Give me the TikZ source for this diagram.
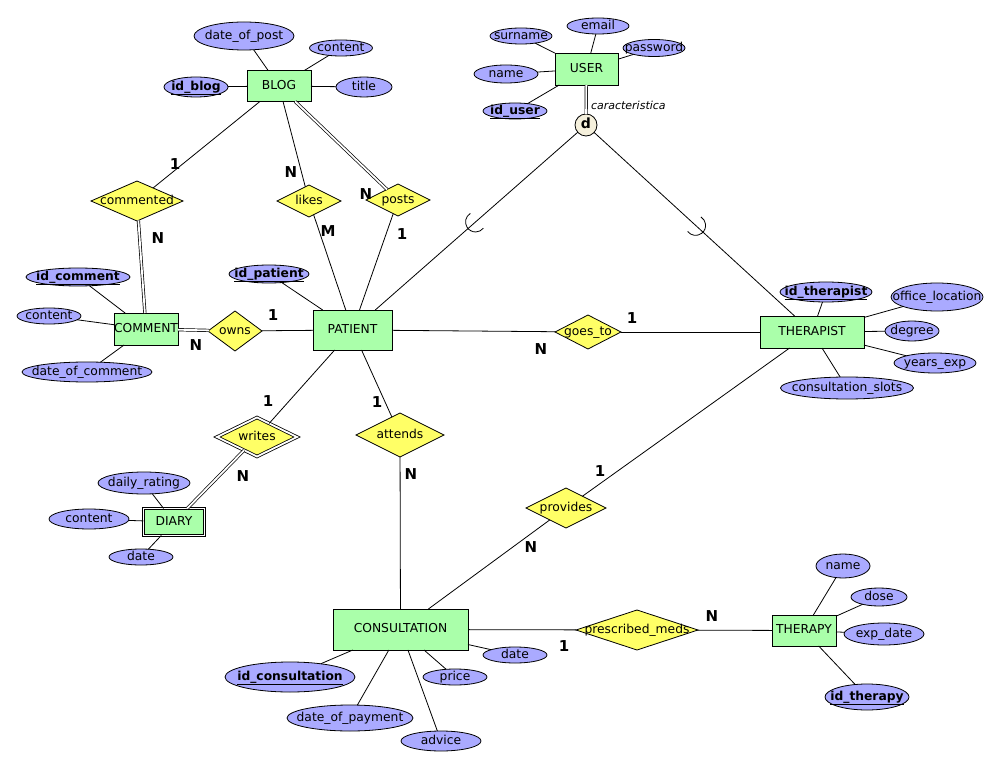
\documentclass[tikz,border=0pt]{standalone}
\usepackage{fontspec}
\setmainfont{DejaVu Sans}
\usetikzlibrary{shapes.geometric,calc}
\definecolor{entfill}{RGB}{170,255,170}
\definecolor{attfill}{RGB}{170,170,255}
\definecolor{relfill}{RGB}{255,255,102}
\definecolor{discfill}{RGB}{245,240,220}
\newcommand\zw[1]{\makebox[0pt]{\raisebox{-.5ex}[0pt][0pt]{#1}}}
\newcommand\keyattr[1]{\underline{\textbf{#1}}}
\begin{document}
\begin{tikzpicture}[x=1pt,y=-1pt,
  every node/.style={font=\fontsize{12.3}{14}\selectfont, inner sep=0pt, outer sep=0pt},
  entity/.style={draw, fill=entfill, rectangle, line width=0.8pt},
  attr/.style={draw, fill=attfill, ellipse, line width=0.8pt},
  rel/.style={draw, fill=relfill, diamond, line width=0.8pt},
  card/.style={font=\fontsize{15}{15}\selectfont\bfseries},
  conn/.style={line width=0.8pt},
  dconn/.style={double, double distance=1.8pt, line width=0.7pt}]
\useasboundingbox[fill=white] (0,0) rectangle (1001,767);

% ---------- entities ----------
\node[entity, minimum width=64, minimum height=31] (blog) at (279,86) {\zw{BLOG}};
\node[entity, minimum width=63, minimum height=32] (user) at (586.5,69) {\zw{USER}};
\node[entity, minimum width=64, minimum height=32] (comment) at (146,329) {\zw{COMMENT}};
\node[entity, minimum width=79, minimum height=40] (patient) at (352.5,330) {\zw{PATIENT}};
\node[entity, minimum width=104, minimum height=32] (therapist) at (812,332) {\zw{THERAPIST}};
\node[entity, double, double distance=1.5pt, minimum width=61, minimum height=27] (diary) at (174,522) {\zw{DIARY}};
\node[entity, minimum width=135, minimum height=41] (consultation) at (400.5,629.5) {\zw{CONSULTATION}};
\node[entity, minimum width=64, minimum height=31] (therapy) at (804,630.5) {\zw{THERAPY}};

% ---------- attributes ----------
\node[attr, minimum width=100, minimum height=28] (dop) at (244,36) {\zw{date\_of\_post}};
\node[attr, minimum width=63, minimum height=16] (bcontent) at (341,48) {\zw{content}};
\node[attr, minimum width=64, minimum height=20] (idblog) at (196,87) {\zw{\keyattr{id\_blog}}};
\node[attr, minimum width=56, minimum height=20] (title) at (364,87) {\zw{title}};

\node[attr, minimum width=62, minimum height=16] (surname) at (521,36) {\zw{surname}};
\node[attr, minimum width=62, minimum height=16] (email) at (598,26) {\zw{email}};
\node[attr, minimum width=62, minimum height=17] (password) at (654,48) {\zw{password}};
\node[attr, minimum width=64, minimum height=18] (uname) at (506,74) {\zw{name}};
\node[attr, minimum width=64, minimum height=16] (iduser) at (515,111) {\zw{\keyattr{id\_user}}};

\node[attr, minimum width=104, minimum height=18] (idcomment) at (78,277) {\zw{\keyattr{id\_comment}}};
\node[attr, minimum width=64, minimum height=16] (ccontent) at (49,316) {\zw{content}};
\node[attr, minimum width=130, minimum height=20] (doc) at (87,372) {\zw{date\_of\_comment}};

\node[attr, minimum width=80, minimum height=18] (idpatient) at (269,274) {\zw{\keyattr{id\_patient}}};

\node[attr, minimum width=92, minimum height=20] (idtherapist) at (826,292) {\zw{\keyattr{id\_therapist}}};
\node[attr, minimum width=92, minimum height=28] (office) at (937,297) {\zw{office\_location}};
\node[attr, minimum width=54, minimum height=20] (degree) at (912,331) {\zw{degree}};
\node[attr, minimum width=82, minimum height=20] (yexp) at (935,363) {\zw{years\_exp}};
\node[attr, minimum width=133, minimum height=22] (slots) at (847,388) {\zw{consultation\_slots}};

\node[attr, minimum width=92, minimum height=22] (rating) at (144,483) {\zw{daily\_rating}};
\node[attr, minimum width=80, minimum height=20] (dcontent) at (89,519) {\zw{content}};
\node[attr, minimum width=64, minimum height=16] (ddate) at (141,557) {\zw{date}};

\node[attr, minimum width=130, minimum height=30] (idcons) at (290,677) {\zw{\keyattr{id\_consultation}}};
\node[attr, minimum width=126, minimum height=26] (dopay) at (350,718) {\zw{date\_of\_payment}};
\node[attr, minimum width=80, minimum height=20] (advice) at (441,741) {\zw{advice}};
\node[attr, minimum width=64, minimum height=16] (price) at (455,677) {\zw{price}};
\node[attr, minimum width=64, minimum height=16] (cdate) at (515,655) {\zw{date}};

\node[attr, minimum width=54, minimum height=24] (tname) at (843,566) {\zw{name}};
\node[attr, minimum width=56, minimum height=18] (dose) at (879,597) {\zw{dose}};
\node[attr, minimum width=80, minimum height=22] (expdate) at (884,634) {\zw{exp\_date}};
\node[attr, minimum width=84, minimum height=26] (idtherapy) at (867,697) {\zw{\keyattr{id\_therapy}}};

% ---------- relationships ----------
\node[rel, minimum width=92, minimum height=40] (commented) at (137,201) {\zw{commented}};
\node[rel, minimum width=64, minimum height=32] (likes) at (309,201) {\zw{likes}};
\node[rel, minimum width=64, minimum height=32] (posts) at (398,200) {\zw{posts}};
\node[rel, minimum width=54, minimum height=40] (owns) at (235,331) {\zw{owns}};
\node[rel, minimum width=66, minimum height=34] (goesto) at (588,332) {\zw{goes\_to}};
\node[rel, double, double distance=1.8pt, minimum width=80, minimum height=39] (writes) at (257,437) {\zw{writes}};
\node[rel, minimum width=88, minimum height=44] (attends) at (400,435) {\zw{attends}};
\node[rel, minimum width=80, minimum height=40] (provides) at (566,508) {\zw{provides}};
\node[rel, minimum width=122, minimum height=40] (prescribed) at (637,630) {\zw{prescribed\_meds}};

% ---------- disjoint specialisation ----------
\node[circle, draw, fill=discfill, line width=0.8pt, minimum size=22, font=\fontsize{14}{14}\selectfont\bfseries] (disc) at (586,125) {\zw{d}};
\node[anchor=west, font=\fontsize{11}{12}\selectfont\itshape] (carat) at (591,105) {caracteristica};

% ---------- connectors: attributes ----------
\draw[conn] (blog) -- (dop);
\draw[conn] (blog) -- (bcontent);
\draw[conn] (blog) -- (idblog);
\draw[conn] (blog) -- (title);
\draw[conn] (user) -- (surname);
\draw[conn] (user) -- (email);
\draw[conn] (user) -- (password);
\draw[conn] (user) -- (uname);
\draw[conn] (user) -- (iduser);
\draw[conn] (comment) -- (idcomment);
\draw[conn] (comment) -- (ccontent);
\draw[conn] (comment) -- (doc);
\draw[conn] (patient) -- (idpatient);
\draw[conn] (therapist) -- (idtherapist);
\draw[conn] (therapist) -- (office);
\draw[conn] (therapist) -- (degree);
\draw[conn] (therapist) -- (yexp);
\draw[conn] (therapist) -- (slots);
\draw[conn] (diary) -- (rating);
\draw[conn] (diary) -- (dcontent);
\draw[conn] (diary) -- (ddate);
\draw[conn] (consultation) -- (idcons);
\draw[conn] (consultation) -- (dopay);
\draw[conn] (consultation) -- (advice);
\draw[conn] (consultation) -- (price);
\draw[conn] (consultation) -- (cdate);
\draw[conn] (therapy) -- (tname);
\draw[conn] (therapy) -- (dose);
\draw[conn] (therapy) -- (expdate);
\draw[conn] (therapy) -- (idtherapy);

% ---------- connectors: relationships ----------
\draw[conn] (blog) -- (commented);
\draw[conn] (blog) -- (likes);
\draw[dconn] (blog) -- (posts);
\draw[dconn] (commented) -- (comment);
\draw[conn] (likes) -- (patient);
\draw[conn] (posts) -- (patient);
\draw[dconn] (comment) -- (owns);
\draw[conn] (owns) -- (patient);
\draw[conn] (patient) -- (goesto);
\draw[conn] (goesto) -- (therapist);
\draw[conn] (patient) -- (writes);
\draw[dconn] (writes) -- (diary);
\draw[conn] (patient) -- (attends);
\draw[conn] (attends) -- (consultation);
\draw[conn] (therapist) -- (provides);
\draw[conn] (provides) -- (consultation);
\draw[conn] (consultation) -- (prescribed);
\draw[conn] (prescribed) -- (therapy);

% ---------- specialisation ----------
\draw[dconn] (user) -- (disc);
\draw[conn] (disc) -- (patient);
\draw[conn] (disc) -- (therapist);
\coordinate (arcL) at ($(disc)!0.473!(patient)$);
\coordinate (arcR) at ($(disc)!0.485!(therapist)$);
\draw[conn] (arcL) ++(-121.3:10) arc[start angle=-121.3, end angle=-321.3, radius=10];
\draw[conn] (arcR) ++(-217.5:10) arc[start angle=-217.5, end angle=-417.5, radius=10];

% ---------- cardinalities ----------
\node[card] (c1) at (175,164) {1};
\node[card] (c2) at (291,172) {N};
\node[card] (c3) at (366,194) {N};
\node[card] (c4) at (158,238) {N};
\node[card] (c5) at (328,231) {M};
\node[card] (c6) at (402,234) {1};
\node[card] (c7) at (273,315) {1};
\node[card] (c8) at (196,345) {N};
\node[card] (c9) at (541,349) {N};
\node[card] (c10) at (632,318) {1};
\node[card] (c11) at (268,401) {1};
\node[card] (c12) at (243,476) {N};
\node[card] (c13) at (377,402) {1};
\node[card] (c14) at (411,474) {N};
\node[card] (c15) at (600,471) {1};
\node[card] (c16) at (531,547) {N};
\node[card] (c17) at (564,646) {1};
\node[card] (c18) at (712,616) {N};
\end{tikzpicture}
\end{document}
